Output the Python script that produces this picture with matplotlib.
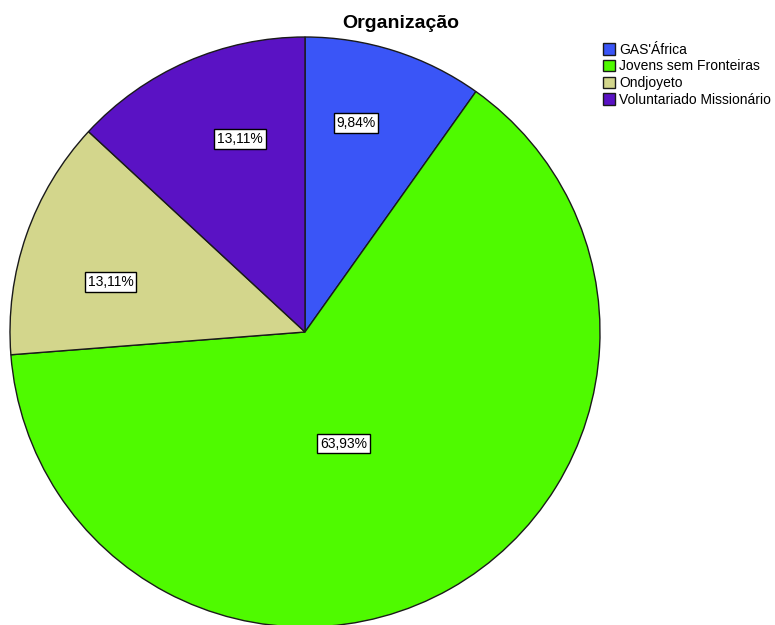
import numpy as np
import matplotlib.pyplot as plt

plt.rcParams['font.family'] = ['Liberation Sans', 'DejaVu Sans']

categories = ["GAS'África", "Jovens sem Fronteiras", "Ondjoyeto", "Voluntariado Missionário"]
counts = [6, 39, 8, 8]
colors = ['#3a55f7', '#4ffa00', '#d3d68c', '#5a12c4']

# label placement (fraction of radius, angle shift in degrees) - SPSS style
label_dist = [0.73, 0.40, 0.68, 0.69]
label_shift = [4, -10.5, 4.7, -5]

fig = plt.figure(figsize=(7.75, 6.25), dpi=100)
ax = fig.add_axes([0, 0, 1, 1])

wedges, texts, autotexts = ax.pie(
    counts, colors=colors, startangle=90, counterclock=False,
    autopct=lambda p: f'{p:.2f}%'.replace('.', ','), pctdistance=0.7,
    wedgeprops=dict(edgecolor='#1a1a1a', linewidth=1.0),
    textprops=dict(fontsize=10),
)

for w, t, d, s in zip(wedges, autotexts, label_dist, label_shift):
    ang = np.deg2rad((w.theta1 + w.theta2) / 2 + s)
    t.set_position((d * np.cos(ang), d * np.sin(ang)))
    t.set_bbox(dict(facecolor='white', edgecolor='black', linewidth=1.0, pad=2))

# pixel mapping: centre at (305, 332), radius 295 px
ax.set_aspect('auto')
ax.set_xlim(-305 / 295, (775 - 305) / 295)
ax.set_ylim(-(625 - 332) / 295, 332 / 295)
ax.axis('off')

fig.text(401 / 775, 1 - 23 / 625, 'Organização', ha='center', va='center',
         fontsize=14, fontweight='bold')

ax.legend(wedges, categories, loc='upper left', bbox_to_anchor=(597 / 775, 1 - 37 / 625),
          bbox_transform=fig.transFigure, frameon=False, fontsize=10,
          handlelength=0.9, handleheight=0.9, handletextpad=0.3, labelspacing=0.2,
          borderaxespad=0)

fig.savefig('out.png', dpi=100)
